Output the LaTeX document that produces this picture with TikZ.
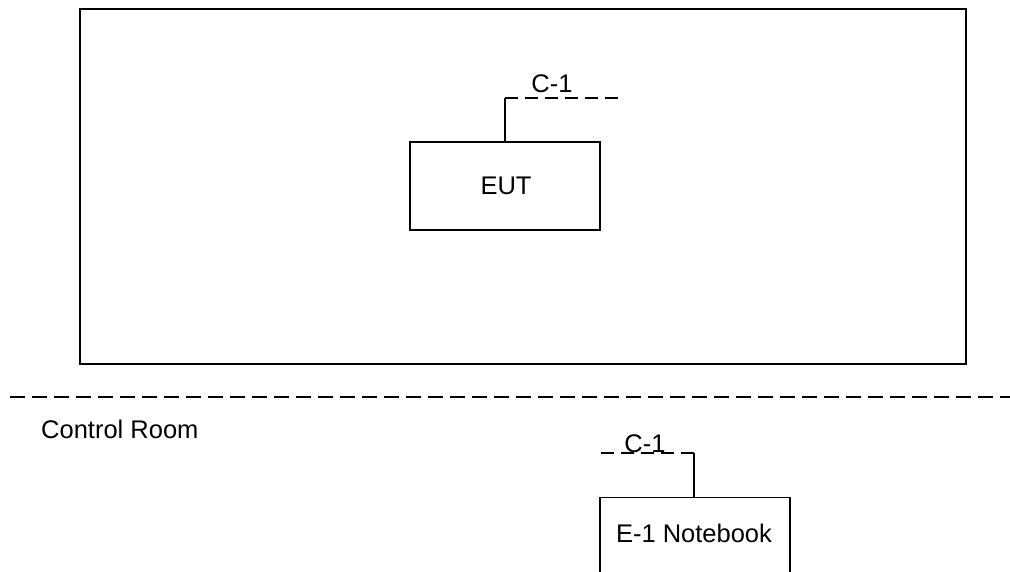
\documentclass[tikz,border=0pt]{standalone}
\usepackage{fontspec}
\setmainfont{Liberation Sans}
\begin{document}
\begin{tikzpicture}[x=1pt,y=-1pt,
  box/.style={draw,line width=1.3pt,minimum width=190pt,minimum height=88pt,inner sep=0pt},
  wire/.style={line width=1.3pt},
  cable/.style={line width=2.2pt,dash pattern=on 13pt off 7pt},
  lbl/.style={font=\fontsize{25.5}{28}\selectfont,inner sep=0pt,anchor=base}]
\useasboundingbox (0,0) rectangle (1010,572);
\clip (0,0) rectangle (1010,572);
\node[draw,line width=1.3pt,minimum width=886pt,minimum height=355pt,inner sep=0pt] (room) at (523,186.5) {};
\node[box] (eut) at (505,186) {};
\node[lbl] (eutt) at (506,195) {EUT};
\coordinate (c1a) at (505,98);
\coordinate (c1b) at (625,98);
\draw[wire] (eut.north) -- (c1a);
\draw[cable] (c1a) -- (c1b);
\node[lbl] (c1top) at (552,93) {C-1};
\coordinate (divL) at (10,397);
\coordinate (divR) at (1010,397);
\draw[cable,dash pattern=on 15pt off 7pt] (divL) -- (divR);
\node[lbl,anchor=base west] (ctrl) at (41,438) {Control Room};
\node[box,minimum height=120pt,anchor=north] (nb) at (695,497) {};
\node[lbl] (nbt) at (694,542) {E-1 Notebook};
\coordinate (c2a) at (694,453);
\coordinate (c2b) at (598,453);
\draw[wire] (c2a |- nb.north) -- (c2a);
\draw[cable] (c2a) -- (c2b);
\node[lbl] (c1bot) at (645,452) {C-1};
\end{tikzpicture}
\end{document}
